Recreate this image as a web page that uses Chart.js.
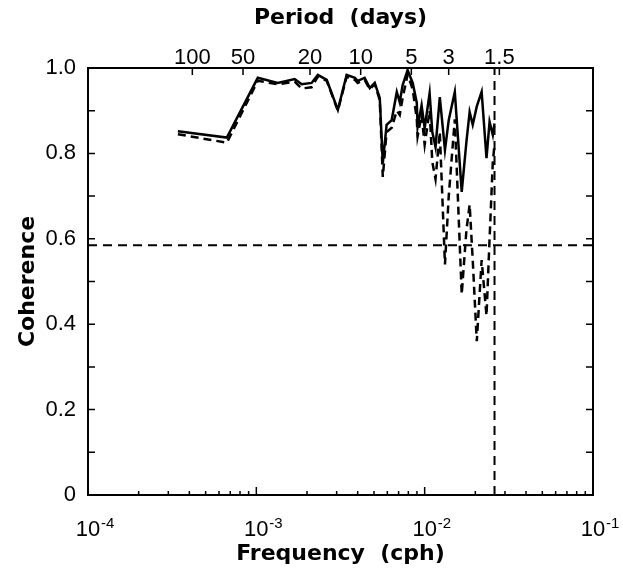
<!DOCTYPE html>
<html lang="en">
<head>
<meta charset="UTF-8">
<title>Coherence</title>
<script src="https://cdn.jsdelivr.net/npm/chart.js"></script>
<style>
  html, body { margin: 0; padding: 0; background: #fff; }
  #wrap { width: 623px; height: 568px; }
</style>
</head>
<body>
<div id="wrap"><canvas id="chart"></canvas></div>
<script>
// frequency (cph) of each estimate
const freq = [3.42e-4, 6.68e-4, 1.02e-3, 1.34e-3, 1.69e-3, 1.86e-3, 2.13e-3, 2.32e-3, 2.62e-3, 3.05e-3,
              3.44e-3, 3.85e-3, 4.00e-3, 4.40e-3, 4.72e-3, 5.05e-3, 5.41e-3, 5.64e-3, 5.94e-3, 6.37e-3,
              6.83e-3, 7.11e-3, 7.40e-3, 7.92e-3, 8.49e-3, 8.98e-3, 9.08e-3, 9.59e-3, 1.00e-2, 1.07e-2,
              1.11e-2, 1.16e-2, 1.23e-2, 1.32e-2, 1.39e-2, 1.51e-2, 1.66e-2, 1.77e-2, 1.85e-2, 1.93e-2,
              2.04e-2, 2.18e-2, 2.33e-2, 2.43e-2, 2.54e-2, 2.60e-2];
const cohSolid = [0.852, 0.837, 0.977, 0.965, 0.974, 0.962, 0.965, 0.984, 0.972, 0.902,
                  0.984, 0.977, 0.970, 0.977, 0.953, 0.965, 0.930, 0.777, 0.867, 0.878,
                  0.944, 0.920, 0.960, 0.995, 0.965, 0.918, 0.862, 0.913, 0.859, 0.941,
                  0.850, 0.815, 0.932, 0.808, 0.878, 0.944, 0.710, 0.827, 0.897, 0.867,
                  0.910, 0.944, 0.789, 0.874, 0.843, 0.870];
const cohDashed = [0.845, 0.825, 0.970, 0.962, 0.968, 0.952, 0.955, 0.980, 0.970, 0.900,
                   0.980, 0.972, 0.965, 0.972, 0.950, 0.962, 0.925, 0.745, 0.850, 0.860,
                   0.900, 0.890, 0.930, 0.985, 0.950, 0.880, 0.840, 0.890, 0.820, 0.900,
                   0.780, 0.740, 0.850, 0.540, 0.700, 0.880, 0.470, 0.620, 0.680, 0.550,
                   0.360, 0.550, 0.420, 0.600, 0.780, 0.820];
const periodDays = [100, 50, 20, 10, 5, 3, 1.5];
const decades = [1e-4, 1e-3, 1e-2, 1e-1];
const decadeExp = ['-4', '-3', '-2', '-1'];
const yTicks = [0, 0.2, 0.4, 0.6, 0.8, 1.0];
const significance = 0.585;   // 95% level
const cutoffFreq = 0.026;     // 1.6 day filter cut

const tickFont = { family: "'Liberation Sans', Arial, sans-serif", size: 22 };
const titleFont = { family: "'DejaVu Sans', sans-serif", size: 22, weight: 'bold' };

// small tick marks pointing into the plot, plus the decade exponents
const inwardTicks = {
  id: 'inwardTicks',
  afterDraw(chart) {
    const { ctx, chartArea: a, scales } = chart;
    ctx.save();
    ctx.strokeStyle = '#000';
    ctx.lineWidth = 1.5;
    ctx.beginPath();
    decades.slice(0, -1).forEach(d => {
      for (let k = 1; k < 10; k++) {
        const px = scales.x.getPixelForValue(d * k);
        ctx.moveTo(px, a.bottom);
        ctx.lineTo(px, a.bottom - (k === 1 ? 8 : 4));
      }
    });
    periodDays.forEach(p => {
      const px = scales.xTop.getPixelForValue(1 / (24 * p));
      ctx.moveTo(px, a.top);
      ctx.lineTo(px, a.top + 7);
    });
    for (let i = 1; i < 10; i++) {
      const py = scales.y.getPixelForValue(i / 10);
      ctx.moveTo(a.left, py); ctx.lineTo(a.left + 7, py);
      ctx.moveTo(a.right, py); ctx.lineTo(a.right - 7, py);
    }
    ctx.stroke();

    ctx.fillStyle = '#000';
    ctx.font = "15px 'Liberation Sans', Arial, sans-serif";
    ctx.textAlign = 'left';
    ctx.textBaseline = 'alphabetic';
    decades.forEach((d, i) => {
      const px = scales.x.getPixelForValue(d);
      ctx.fillText(decadeExp[i], px + 13, a.bottom + 33);
    });
    ctx.restore();
  }
};

const pts = vals => freq.map((f, i) => ({ x: f, y: vals[i] }));

new Chart(document.getElementById('chart'), {
  type: 'line',
  data: {
    datasets: [
      { data: pts(cohSolid), borderColor: '#000', borderWidth: 2.5, pointRadius: 0, tension: 0 },
      { data: pts(cohDashed), borderColor: '#000', borderWidth: 2.5, borderDash: [8, 5], pointRadius: 0, tension: 0 },
      { data: [{ x: decades[0], y: significance }, { x: decades[3], y: significance }],
        borderColor: '#000', borderWidth: 2, borderDash: [9, 6], pointRadius: 0 },
      { data: [{ x: cutoffFreq, y: 0 }, { x: cutoffFreq, y: 1 }],
        borderColor: '#000', borderWidth: 2, borderDash: [9, 6], pointRadius: 0 }
    ]
  },
  options: {
    responsive: true,
    maintainAspectRatio: false,
    animation: false,
    layout: { padding: 0 },
    plugins: { legend: { display: false }, tooltip: { enabled: false } },
    scales: {
      x: {
        type: 'logarithmic', position: 'bottom', min: 1e-4, max: 1e-1,
        afterBuildTicks: s => { s.ticks = decades.map(v => ({ value: v })); },
        afterFit: s => { s.height = 73; },
        ticks: { color: '#000', font: tickFont, padding: 14, maxRotation: 0, callback: () => '10' },
        grid: { display: false },
        border: { color: '#000', width: 2 },
        title: { display: true, text: 'Frequency  (cph)', color: '#000', font: titleFont, padding: { top: 0, bottom: 1 } }
      },
      xTop: {
        type: 'logarithmic', position: 'top', min: 1e-4, max: 1e-1,
        afterBuildTicks: s => { s.ticks = periodDays.map(p => ({ value: 1 / (24 * p) })); },
        afterFit: s => { s.height = 68; },
        ticks: { color: '#000', font: tickFont, padding: -11, maxRotation: 0, autoSkip: false,
                 callback: (v, i) => String(periodDays[i]) },
        grid: { display: false },
        border: { color: '#000', width: 2 },
        title: { display: true, text: 'Period  (days)', color: '#000', font: titleFont, padding: { top: 5, bottom: 0 } }
      },
      y: {
        min: 0, max: 1,
        afterBuildTicks: s => { s.ticks = yTicks.map(v => ({ value: v })); },
        afterFit: s => { s.width = 88; },
        ticks: { color: '#000', font: tickFont, padding: 4,
                 callback: v => v === 0 ? '0' : v.toFixed(1) },
        grid: { display: false },
        border: { color: '#000', width: 2 },
        title: { display: true, text: 'Coherence', color: '#000', font: titleFont, padding: { top: 15, bottom: 0 } }
      },
      yRight: {
        position: 'right', min: 0, max: 1,
        afterFit: s => { s.width = 30; },
        ticks: { display: false },
        grid: { display: false },
        border: { color: '#000', width: 2 }
      }
    }
  },
  plugins: [inwardTicks]
});
</script>
</body>
</html>
